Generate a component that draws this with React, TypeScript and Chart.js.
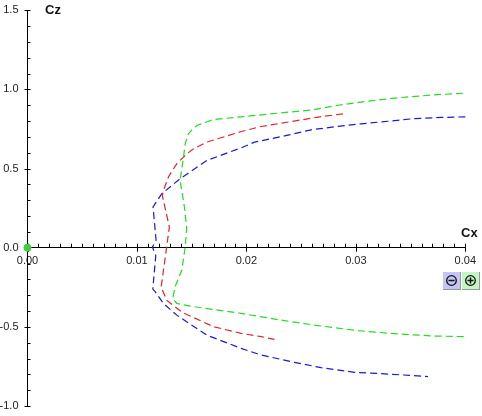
import React, { useEffect, useRef } from "react";
import Chart from "chart.js/auto";

const blueX = [0.0400, 0.0378, 0.03536, 0.03293, 0.03049, 0.02805, 0.02592, 0.02379, 0.02074, 0.01952, 0.01638, 0.01394, 0.01227, 0.01147, 0.01175, 0.01141, 0.01172, 0.01145, 0.01166, 0.01242, 0.01364, 0.01638, 0.01952, 0.02135, 0.02439, 0.02683, 0.02988, 0.03293, 0.03659];
const blueY = [0.827, 0.823, 0.816, 0.799, 0.783, 0.764, 0.745, 0.711, 0.667, 0.631, 0.551, 0.436, 0.341, 0.258, 0.046, 0.004, -0.049, -0.261, -0.277, -0.352, -0.426, -0.552, -0.636, -0.678, -0.724, -0.758, -0.787, -0.798, -0.814];
const redX = [0.02882, 0.02653, 0.02409, 0.02135, 0.01952, 0.01638, 0.01517, 0.01455, 0.01363, 0.0129, 0.01242, 0.01232, 0.01296, 0.01257, 0.01221, 0.01273, 0.0141, 0.01699, 0.01952, 0.02135, 0.02256];
const redY = [0.846, 0.825, 0.797, 0.766, 0.734, 0.667, 0.625, 0.593, 0.53, 0.45, 0.362, 0.33, 0.13, -0.069, -0.249, -0.333, -0.407, -0.499, -0.541, -0.562, -0.579];
const greenX = [0.03979, 0.03719, 0.03415, 0.0311, 0.02836, 0.02607, 0.02318, 0.01952, 0.01699, 0.01547, 0.01516, 0.0147, 0.01442, 0.01425, 0.01394, 0.01434, 0.01455, 0.0144, 0.0141, 0.01349, 0.01327, 0.01364, 0.01486, 0.01952, 0.02348, 0.02653, 0.03019, 0.03385, 0.03719, 0.04];
const greenY = [0.976, 0.966, 0.949, 0.926, 0.9, 0.871, 0.852, 0.827, 0.81, 0.772, 0.755, 0.72, 0.66, 0.572, 0.425, 0.256, 0.122, 0, -0.141, -0.246, -0.32, -0.352, -0.369, -0.415, -0.461, -0.492, -0.524, -0.545, -0.558, -0.562];
const originX = [0];
const originY = [0];

const xMajorDigits = 2;
const yMajorDigits = 1;
const xStep = 0.001;
const yStep = 0.1;
const xTitle = "Cx";
const yTitle = "Cz";

const zip = (xs: number[], ys: number[]) => xs.map((x, i) => ({ x, y: ys[i] }));
const isMajor = (v: number, every: number) => Math.abs(v / every - Math.round(v / every)) < 1e-6;

const axisDecor = {
  id: "axisDecor",
  afterDraw(chart: any) {
    const { ctx, scales } = chart;
    const { x, y } = scales;
    const x0 = x.getPixelForValue(0);
    const y0 = y.getPixelForValue(0);
    ctx.save();
    ctx.strokeStyle = "#000";
    ctx.lineWidth = 1;
    ctx.beginPath();
    x.ticks.forEach((t: any) => {
      const px = Math.round(x.getPixelForValue(t.value)) + 0.5;
      const major = isMajor(t.value, 0.01);
      ctx.moveTo(px, y0 - 4);
      ctx.lineTo(px, y0 + (major ? 4 : 0));
    });
    y.ticks.forEach((t: any) => {
      const py = Math.round(y.getPixelForValue(t.value)) + 0.5;
      const major = isMajor(t.value, 0.5);
      ctx.moveTo(x0 + 3, py);
      ctx.lineTo(x0 - (major ? 3 : 0), py);
    });
    ctx.stroke();
    ctx.fillStyle = "#111";
    ctx.font = "bold 13px 'Liberation Sans'";
    ctx.textBaseline = "middle";
    ctx.textAlign = "left";
    ctx.fillText(yTitle, 45, 10);
    ctx.fillText(xTitle, 461, 233);
    // origin marker stays on top of the axes, as in the reference
    ctx.beginPath();
    ctx.arc(x0, y0, 3.6, 0, Math.PI * 2);
    ctx.fillStyle = "#3fd03f";
    ctx.fill();
    ctx.restore();
  },
};

const btn = (left: number, bg: string, plus: boolean) => (
  <div
    style={{
      position: "absolute",
      left,
      top: 272,
      width: 17,
      height: 17,
      background: bg,
      borderRight: "1px solid #999",
      borderBottom: "1px solid #999",
    }}
  >
    <svg width="17" height="17" style={{ display: "block" }}>
      <circle cx="8.5" cy="8.5" r="4.8" fill="none" stroke="#111" strokeWidth="1.3" />
      <line x1="5.5" y1="8.5" x2="11.5" y2="8.5" stroke="#111" strokeWidth="1.5" />
      {plus && <line x1="8.5" y1="5.5" x2="8.5" y2="11.5" stroke="#111" strokeWidth="1.5" />}
    </svg>
  </div>
);

export default function App() {
  const ref = useRef<HTMLCanvasElement>(null);
  useEffect(() => {
    document.body.style.margin = "0";
    const line = (data: any[], color: string) => ({
      data,
      showLine: true,
      borderColor: color,
      borderWidth: 1.2,
      borderDash: [7, 4],
      pointRadius: 0,
      tension: 0,
      fill: false,
      clip: false,
    });
    const font = { family: "'Liberation Sans'", size: 11 };
    const chart = new Chart(ref.current!, {
      type: "scatter",
      data: {
        datasets: [
          line(zip(greenX, greenY), "#22dd22"),
          line(zip(redX, redY), "#e0242c"),
          line(zip(blueX, blueY), "#1a1acc"),
          {
            data: zip(originX, originY),
            pointRadius: 3.5,
            pointBackgroundColor: "#3fd03f",
            pointBorderColor: "#3fd03f",
            pointBorderWidth: 1,
            clip: false,
          } as any,
        ],
      },
      options: {
        animation: false,
        responsive: false,
        layout: { padding: 0 },
        plugins: { legend: { display: false }, tooltip: { enabled: false } },
        scales: {
          x: {
            type: "linear",
            min: 0,
            max: 0.04,
            position: { y: 0 } as any,
            afterFit: (s: any) => {
              s.paddingLeft = 0;
              s.paddingRight = 16.7;
            },
            grid: { drawOnChartArea: false, drawTicks: false },
            border: { color: "#000", width: 1 },
            ticks: {
              stepSize: xStep,
              autoSkip: false,
              maxRotation: 0,
              padding: 7,
              color: "#222",
              font,
              callback: (v: any) => (isMajor(Number(v), 0.01) ? Number(v).toFixed(xMajorDigits) : ""),
            },
          },
          y: {
            type: "linear",
            min: -1,
            max: 1.5,
            position: "left",
            afterFit: (s: any) => {
              s.width = 27.5;
              s.paddingTop = 10.3;
              s.paddingBottom = 10;
            },
            grid: { drawOnChartArea: false, drawTicks: false },
            border: { color: "#000", width: 1 },
            ticks: {
              stepSize: yStep,
              autoSkip: false,
              padding: 9,
              color: "#222",
              font,
              callback: (v: any) => (isMajor(Number(v), 0.5) ? Number(v).toFixed(yMajorDigits) : ""),
            },
          },
        },
      },
      plugins: [axisDecor],
    } as any);
    return () => chart.destroy();
  }, []);
  return (
    <div style={{ position: "relative", width: 482, height: 416, overflow: "hidden" }}>
      <canvas ref={ref} width={482} height={416} style={{ display: "block" }} />
      {btn(443, "#c4c4f6", false)}
      {btn(462, "#c4f6c4", true)}
    </div>
  );
}
